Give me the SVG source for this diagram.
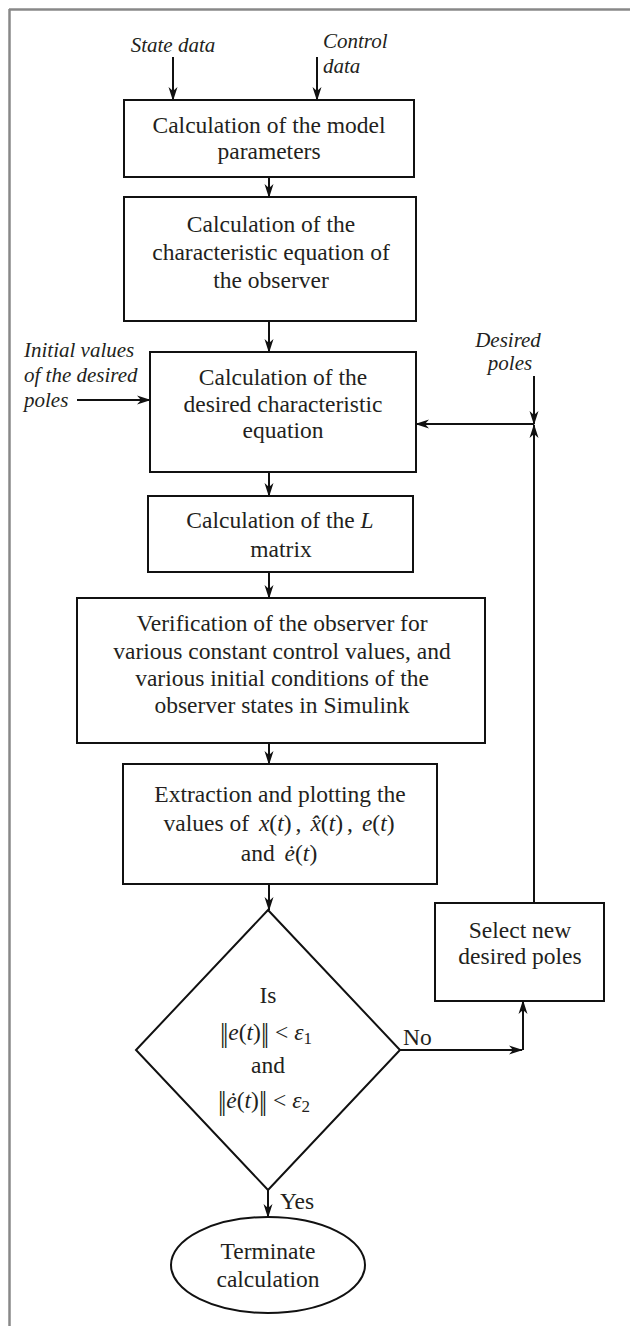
<svg xmlns="http://www.w3.org/2000/svg" width="630" height="1326" viewBox="0 0 630 1326">
<style>
.b{fill:#fff;stroke:#111;stroke-width:2}
.t{font-family:"Liberation Serif","Times New Roman",serif;font-size:23.5px;fill:#231f20;text-anchor:middle}
.s{font-family:"Liberation Serif","Times New Roman",serif;font-size:23.5px;fill:#231f20;text-anchor:start}
.l{font-family:"Liberation Serif","Times New Roman",serif;font-size:21px;font-style:italic;fill:#231f20}
.lm{text-anchor:middle}
.i{font-style:italic}
.n{font-size:27px}
.sub{font-size:17px;font-style:normal}
.c{fill:none;stroke:#111;stroke-width:2}
.a{marker-end:url(#ah)}
</style>
<defs>
<marker id="ah" markerUnits="userSpaceOnUse" markerWidth="14" markerHeight="10" refX="13" refY="5" orient="auto">
<path d="M0,0.5 L14,5 L0,9.5 L4,5 z" fill="#111"/>
</marker>
</defs>
<rect width="630" height="1326" fill="#fff"/>
<g id="frame">
<line x1="9" y1="9.5" x2="630" y2="9.5" stroke="#888" stroke-width="2.5"/>
<line x1="9.5" y1="9" x2="9.5" y2="1326" stroke="#888" stroke-width="2.5"/>
</g>
<g id="labels">
<text class="l lm" x="173" y="52">State data</text>
<text class="l" x="323" y="48">Control</text>
<text class="l" x="323" y="73">data</text>
<text class="l" x="24" y="357">Initial values</text>
<text class="l" x="24" y="382">of the desired</text>
<text class="l" x="24" y="407">poles</text>
<text class="l lm" x="508" y="347">Desired</text>
<text class="l lm" x="510" y="370">poles</text>
<text class="s" x="403" y="1045">No</text>
<text class="s" x="280" y="1209">Yes</text>
</g>
<g id="connectors">
<line class="c a" x1="173" y1="57" x2="173" y2="100"/>
<line class="c a" x1="317" y1="57" x2="317" y2="100"/>
<line class="c a" x1="269" y1="177" x2="269" y2="197"/>
<line class="c a" x1="269" y1="321" x2="269" y2="352"/>
<line class="c a" x1="77" y1="400" x2="150" y2="400"/>
<line class="c a" x1="534" y1="376" x2="534" y2="424"/>
<line class="c a" x1="534" y1="424" x2="416" y2="424"/>
<line class="c a" x1="534" y1="903" x2="534" y2="425"/>
<line class="c a" x1="269" y1="472" x2="269" y2="496"/>
<line class="c a" x1="269" y1="572" x2="269" y2="598"/>
<line class="c a" x1="269" y1="743" x2="269" y2="764"/>
<line class="c a" x1="269" y1="884" x2="269" y2="910"/>
<line class="c a" x1="400" y1="1050" x2="522" y2="1050"/>
<line class="c a" x1="523" y1="1050" x2="523" y2="1001"/>
<line class="c a" x1="268" y1="1190" x2="268" y2="1217"/>
</g>
<g id="n1">
<rect class="b" x="124" y="100" width="290" height="77"/>
<text class="t" x="269" y="133">Calculation of the model</text>
<text class="t" x="269" y="159">parameters</text>
</g>
<g id="n2">
<rect class="b" x="124" y="197" width="292" height="124"/>
<text class="t" x="271" y="232">Calculation of the</text>
<text class="t" x="271" y="260">characteristic equation of</text>
<text class="t" x="271" y="288">the observer</text>
</g>
<g id="n3">
<rect class="b" x="150" y="352" width="266" height="120"/>
<text class="t" x="283" y="385">Calculation of the</text>
<text class="t" x="283" y="412">desired characteristic</text>
<text class="t" x="283" y="438">equation</text>
</g>
<g id="n4">
<rect class="b" x="148" y="496" width="265" height="76"/>
<text class="t" x="280" y="528">Calculation of the <tspan class="i">L</tspan></text>
<text class="t" x="281" y="557">matrix</text>
</g>
<g id="n5">
<rect class="b" x="77" y="598" width="408" height="145"/>
<text class="t" x="282" y="631">Verification of the observer for</text>
<text class="t" x="282" y="659">various constant control values, and</text>
<text class="t" x="282" y="686">various initial conditions of the</text>
<text class="t" x="282" y="713">observer states in Simulink</text>
</g>
<g id="n6">
<rect class="b" x="123" y="764" width="314" height="120"/>
<text class="t" x="280" y="802">Extraction and plotting the</text>
<text class="t" x="279" y="831">values of <tspan class="i" dx="4">x</tspan>(<tspan class="i">t</tspan>)<tspan dx="4">,</tspan><tspan class="i" dx="9">x̂</tspan>(<tspan class="i">t</tspan>)<tspan dx="4">,</tspan><tspan class="i" dx="9">e</tspan>(<tspan class="i">t</tspan>)</text>
<text class="t" x="279" y="861">and <tspan class="i" dx="4">ė</tspan>(<tspan class="i">t</tspan>)</text>
</g>
<g id="n7">
<polygon class="b" points="268,910 400,1050 268,1190 136,1050"/>
<text class="t" x="268" y="1003">Is</text>
<text class="t" x="266" y="1040"><tspan class="n" dy="2">|</tspan><tspan class="n" dx="-2.5">|</tspan><tspan class="i" dy="-2">e</tspan>(<tspan class="i">t</tspan>)<tspan class="n" dy="2">|</tspan><tspan class="n" dx="-2.5">|</tspan><tspan dy="-2"> &lt; </tspan><tspan class="i">ε</tspan><tspan class="sub" dy="4">1</tspan></text>
<text class="t" x="268" y="1073">and</text>
<text class="t" x="264" y="1108"><tspan class="n" dy="2">|</tspan><tspan class="n" dx="-2.5">|</tspan><tspan class="i" dy="-2">ė</tspan>(<tspan class="i">t</tspan>)<tspan class="n" dy="2">|</tspan><tspan class="n" dx="-2.5">|</tspan><tspan dy="-2"> &lt; </tspan><tspan class="i">ε</tspan><tspan class="sub" dy="4">2</tspan></text>
</g>
<g id="n8">
<rect class="b" x="435" y="903" width="169" height="98"/>
<text class="t" x="520" y="938">Select new</text>
<text class="t" x="520" y="964">desired poles</text>
</g>
<g id="n9">
<ellipse class="b" cx="268" cy="1265" rx="97" ry="48"/>
<text class="t" x="268" y="1259">Terminate</text>
<text class="t" x="268" y="1287">calculation</text>
</g>
</svg>
